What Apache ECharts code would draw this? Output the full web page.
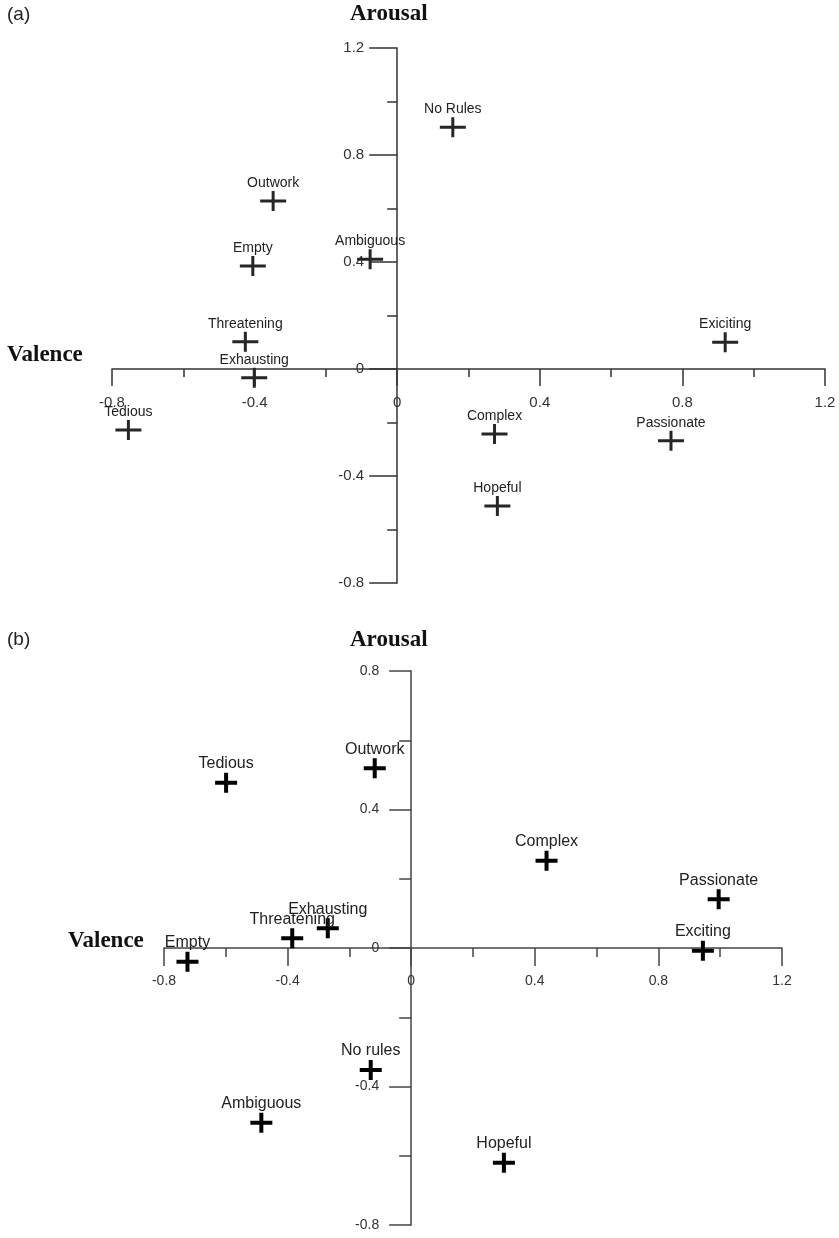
<!DOCTYPE html>
<html>
<head>
<meta charset="utf-8">
<script src="https://cdn.jsdelivr.net/npm/echarts@6/dist/echarts.min.js"></script>
<style>html,body{margin:0;padding:0;background:#fff}#c{width:839px;height:1238px}</style>
</head>
<body>
<div id="c"></div>
<script>
// Panel (a)
const namesA = ['No Rules','Outwork','Ambiguous','Empty','Threatening','Exhausting','Tedious','Exiciting','Complex','Passionate','Hopeful'];
const valenceA = [0.156,-0.348,-0.076,-0.405,-0.426,-0.401,-0.754,0.920,0.273,0.768,0.281];
const arousalA = [0.904,0.628,0.410,0.385,0.102,-0.033,-0.228,0.100,-0.243,-0.268,-0.512];
const xTicksA = [-0.8,-0.4,0,0.4,0.8,1.2];
const yTicksA = [-0.8,-0.4,0,0.4,0.8,1.2];

// Panel (b)
const namesB = ['Tedious','Outwork','Complex','Passionate','Exciting','Exhausting','Threatening','Empty','No rules','Ambiguous','Hopeful'];
const valenceB = [-0.599,-0.118,0.438,0.995,0.944,-0.270,-0.385,-0.724,-0.131,-0.485,0.300];
const arousalB = [0.477,0.519,0.252,0.141,-0.008,0.057,0.028,-0.040,-0.352,-0.505,-0.620];
const xTicksB = [-0.8,-0.4,0,0.4,0.8,1.2];
const yTicksB = [-0.8,-0.4,0,0.4,0.8];

const gridA = {left:112, top:48, width:713, height:535};
const gridB = {left:164, top:671, width:618, height:554};

const chart = echarts.init(document.getElementById('c'), null, {renderer:'canvas'});

const crossA = 'path://M0,8.5 H26 V11.5 H0 Z M11.5,0 H14.5 V20 H11.5 Z';
const crossB = 'path://M0,8 H22 V12 H0 Z M9,0 H13 V20 H9 Z';

// distance (px) from the lower/left end of an axis to where the other axis' zero sits
function zeroOffset(ticks, span) {
  const mn = ticks[0], mx = ticks[ticks.length-1];
  return -((0 - mn) / (mx - mn)) * span;
}

function mkAxis(ticks, idx, pos, offset, o) {
  return {
    type: 'value', gridIndex: idx, position: pos, offset: offset,
    min: ticks[0], max: ticks[ticks.length-1], interval: 0.4,
    splitLine: {show:false},
    axisLine: {show:true, onZero:false, lineStyle:{color:o.color, width:1.5}},
    axisTick: {show:true, inside:false, length:o.tick, lineStyle:{color:o.color, width:1.5}},
    minorTick: {show:true, splitNumber:2, length:o.minor, lineStyle:{color:o.color, width:1.5}},
    minorSplitLine: {show:false},
    axisLabel: {show:true, margin:o.margin, fontFamily:'Liberation Sans, Arial, sans-serif', fontSize:o.font, color:o.lcolor,
      formatter: v => String(Math.round(v*10)/10)}
  };
}

const serifBold = {fontFamily:'Liberation Serif, Times New Roman, serif', fontWeight:'bold', fontSize:23, fill:'#111'};
const sans = {fontFamily:'Liberation Sans, Arial, sans-serif', fontSize:19, fill:'#222'};

chart.setOption({
  animation: false,
  backgroundColor: '#fff',
  grid: [
    Object.assign({containLabel:false, outerBoundsMode:'none'}, gridA),
    Object.assign({containLabel:false, outerBoundsMode:'none'}, gridB)
  ],
  xAxis: [
    mkAxis(xTicksA, 0, 'bottom', zeroOffset(yTicksA, gridA.height), {color:'#333', tick:17, minor:8, margin:26, font:15, lcolor:'#333'}),
    mkAxis(xTicksB, 1, 'bottom', zeroOffset(yTicksB, gridB.height), {color:'#444', tick:18, minor:9, margin:26, font:14, lcolor:'#333'})
  ],
  yAxis: [
    mkAxis(yTicksA, 0, 'left', zeroOffset(xTicksA, gridA.width), {color:'#333', tick:28, minor:10, margin:33, font:15, lcolor:'#333'}),
    mkAxis(yTicksB, 1, 'left', zeroOffset(xTicksB, gridB.width), {color:'#444', tick:22, minor:12, margin:32, font:14, lcolor:'#333'})
  ],
  graphic: [
    {type:'text', left:7, top:5, style:Object.assign({text:'(a)'}, sans)},
    {type:'text', left:350, top:3, style:Object.assign({text:'Arousal'}, serifBold)},
    {type:'text', left:7, top:344, style:Object.assign({text:'Valence'}, serifBold)},
    {type:'text', left:7, top:630, style:Object.assign({text:'(b)'}, sans)},
    {type:'text', left:350, top:629, style:Object.assign({text:'Arousal'}, serifBold)},
    {type:'text', left:68, top:930, style:Object.assign({text:'Valence'}, serifBold)}
  ],
  series: [
    {
      type:'scatter', xAxisIndex:0, yAxisIndex:0,
      symbol: crossA, symbolSize:[26,20],
      itemStyle:{color:'#262626', opacity:1},
      label:{show:true, position:'top', distance:1, formatter:'{b}', color:'#222', fontSize:14, fontFamily:'Liberation Sans, Arial, sans-serif'},
      data: namesA.map((n,i)=>({name:n, value:[valenceA[i], arousalA[i]]}))
    },
    {
      type:'scatter', xAxisIndex:1, yAxisIndex:1,
      symbol: crossB, symbolSize:[22,20],
      itemStyle:{color:'#000', opacity:1},
      label:{show:true, position:'top', distance:1, formatter:'{b}', color:'#222', fontSize:16, fontFamily:'Liberation Sans, Arial, sans-serif'},
      data: namesB.map((n,i)=>({name:n, value:[valenceB[i], arousalB[i]]}))
    }
  ]
});
</script>
</body>
</html>
